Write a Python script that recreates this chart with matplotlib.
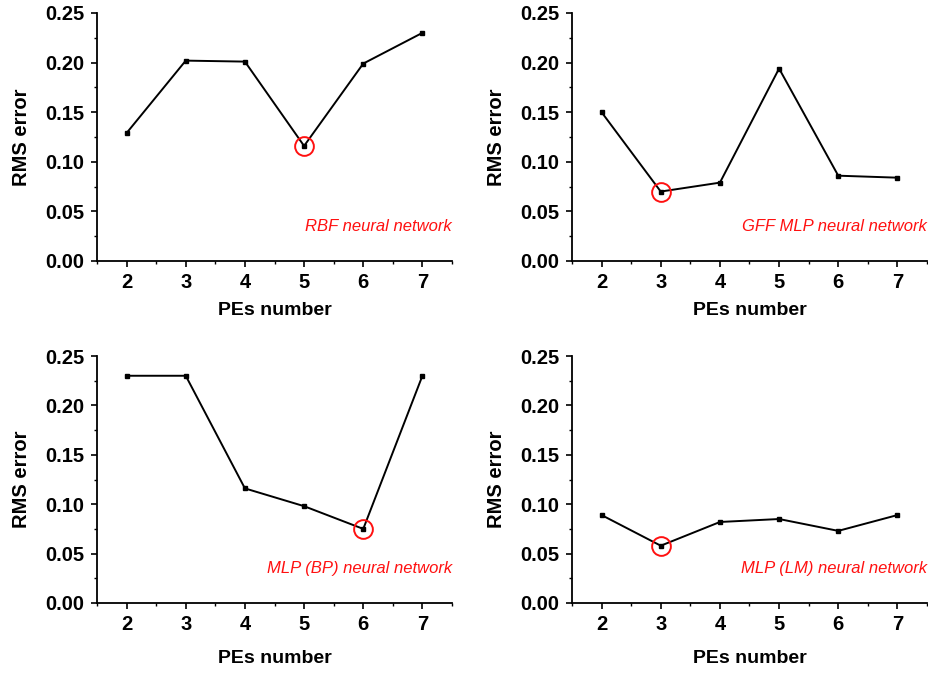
"""RMS error versus number of processing elements for four neural network types."""

import numpy as np
import matplotlib

matplotlib.use("Agg")
import matplotlib.pyplot as plt
from matplotlib.ticker import MultipleLocator, FormatStrFormatter

pes = [2, 3, 4, 5, 6, 7]

rms_rbf = [0.129, 0.202, 0.201, 0.116, 0.199, 0.230]
rms_gff = [0.150, 0.070, 0.079, 0.194, 0.086, 0.084]
rms_bp = [0.230, 0.230, 0.116, 0.098, 0.075, 0.230]
rms_lm = [0.089, 0.058, 0.082, 0.085, 0.073, 0.089]

labels = [
    "RBF neural network",
    "GFF MLP neural network",
    "MLP (BP) neural network",
    "MLP (LM) neural network",
]

plt.rcParams["font.family"] = ["Liberation Sans", "DejaVu Sans"]

W, H = 929, 673
fig = plt.figure(figsize=(W / 100, H / 100), dpi=100)

# axes boxes in pixels: left, top, right, bottom
boxes = [
    (97, 13, 452, 261),
    (572, 13, 927, 261),
    (97, 356, 452, 603),
    (572, 356, 927, 603),
]
xlab_pad = [7, 7, 11, 11]

for k, ((l, t, r, b), vals, lab) in enumerate(
        zip(boxes, [rms_rbf, rms_gff, rms_bp, rms_lm], labels)):
    ax = fig.add_axes([l / W, 1 - b / H, (r - l) / W, (b - t) / H])
    ax.plot(pes, vals, "-", color="black", lw=1.4, marker="s", ms=3.5,
            mfc="black", mec="black", zorder=3)

    # circle the best (lowest error) configuration
    i = int(np.argmin(vals))
    ax.plot(pes[i], vals[i], "o", ms=13.5, mfc="none", mec="#ff1010",
            mew=1.4, zorder=4)

    ax.text(7.5, 0.035, lab, color="#ff1010", fontsize=12, style="italic",
            ha="right", va="center")

    ax.set_xlim(1.5, 7.5)
    ax.set_ylim(0, 0.25)
    ax.xaxis.set_major_locator(MultipleLocator(1))
    ax.xaxis.set_minor_locator(MultipleLocator(0.5))
    ax.yaxis.set_major_locator(MultipleLocator(0.05))
    ax.yaxis.set_minor_locator(MultipleLocator(0.025))
    ax.yaxis.set_major_formatter(FormatStrFormatter("%.2f"))

    ax.spines["top"].set_visible(False)
    ax.spines["right"].set_visible(False)
    for s in ("left", "bottom"):
        ax.spines[s].set_linewidth(1.3)
    ax.tick_params(which="major", direction="out", length=4, width=1.2,
                   labelsize=14.5, pad=5)
    ax.tick_params(which="minor", direction="out", length=2.5, width=1.0)
    for tl in ax.get_xticklabels() + ax.get_yticklabels():
        tl.set_fontweight("bold")

    ax.set_xlabel("PEs number", fontsize=14, fontweight="bold",
                  labelpad=xlab_pad[k])
    ax.set_ylabel("RMS error", fontsize=14.5, fontweight="bold", labelpad=10)

fig.savefig("out.png", dpi=100)
